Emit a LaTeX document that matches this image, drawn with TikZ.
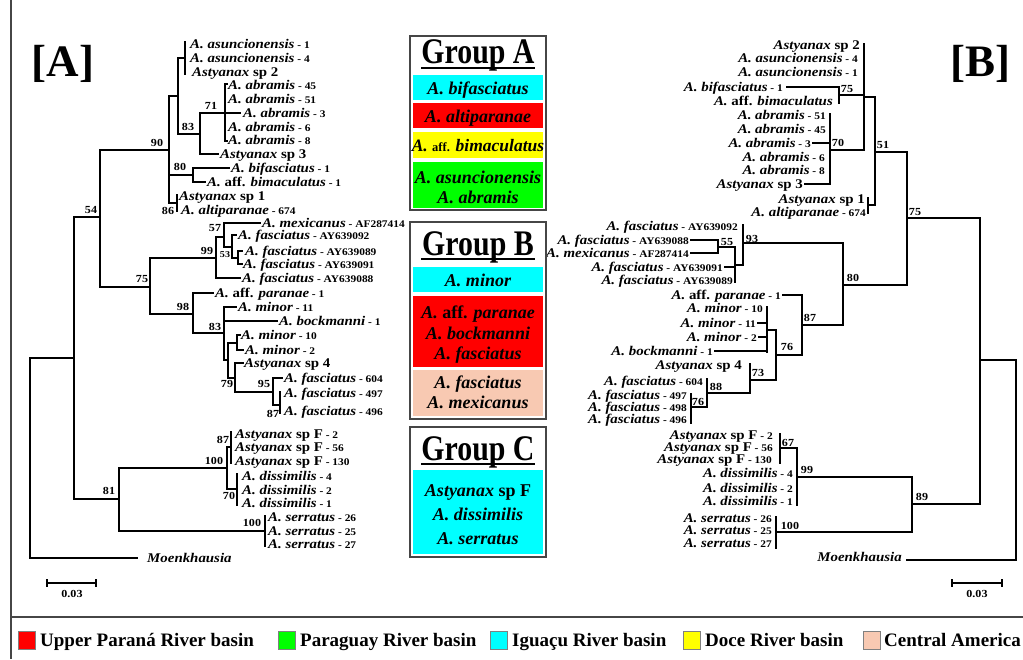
\documentclass[tikz,border=0pt]{standalone}
\usepackage{fontspec}
\setmainfont{Liberation Serif}
\newfontfamily\tipf[FakeStretch=1.12]{Liberation Serif}
\newfontfamily\grpf[FakeStretch=0.83]{Liberation Serif}
\definecolor{peach}{RGB}{248,201,178}
\definecolor{boxgray}{RGB}{70,70,70}
\definecolor{cyanb}{RGB}{0,255,255}
\definecolor{redb}{RGB}{255,0,0}
\definecolor{yelb}{RGB}{255,255,0}
\definecolor{grnb}{RGB}{0,255,0}
\newcommand\spi[1]{\textbf{\textit{#1}}}
\newcommand\spn[1]{{\fontsize{10.2}{10}\selectfont\bfseries\ -\ #1}}
\newcommand\spu[1]{\textbf{#1}}
\tikzset{
 br/.style={line width=1.7pt, line cap=rect},
 tipL/.style={anchor=base west, inner sep=0pt, yshift=-4.4pt, font=\tipf\fontsize{13.3}{13}\selectfont},
 tipR/.style={anchor=base east, inner sep=0pt, yshift=-4.4pt, font=\tipf\fontsize{13.3}{13}\selectfont},
 bs/.style={inner sep=0pt, font=\tipf\bfseries\fontsize{10.8}{11}\selectfont},
 bsm/.style={inner sep=0pt, font=\tipf\bfseries\fontsize{9}{9}\selectfont},
 bandtxt/.style={anchor=base, inner sep=0pt, yshift=-6pt, font=\bfseries\itshape\fontsize{18}{18}\selectfont},
 ttl/.style={anchor=base, inner sep=0pt, font=\grpf\bfseries\fontsize{36}{36}\selectfont},
 leg/.style={anchor=base west, inner sep=0pt, yshift=-6.3pt, font=\bfseries\fontsize{19}{20}\selectfont},
 legsq/.style={draw=gray, line width=0.6pt},
 grpbox/.style={draw=boxgray, line width=1.3pt},
 big/.style={inner sep=0pt, font=\bfseries\fontsize{45}{45}\selectfont},
 sbar/.style={line width=1.3pt},
}
\begin{document}
\begin{tikzpicture}[x=1pt,y=-1pt]
\clip (0,0) rectangle (1023,659);
\fill[white] (0,0) rectangle (1023,659);
% frame
\draw[boxgray, line width=1.5pt] (11,0)--(11,659) (11,617)--(1023,617);
% panel labels
\node[big] (labA) at (63,64) {[A]};
\node[big] (labB) at (980,64) {[B]};

% ---------------- left tree -----------------
\draw[br] (30,358)--(30,558) (30,358)--(74,358) (30,558)--(137,558)
 (74,217)--(74,499) (74,217)--(100,217) (74,499)--(119,499)
 (100,150)--(100,287) (100,150)--(169,150) (100,287)--(150,287)
 (169,96)--(169,203) (169,96)--(178,96) (169,175)--(193,175) (169,203)--(177,203)
 (178,58)--(178,134) (178,58)--(185,58) (178,134)--(200,134)
 (185,42)--(185,74)
 (200,113)--(200,154) (200,154)--(218,154) (200,113)--(225,113)
 (225,84)--(225,141) (225,84)--(227,84) (225,141)--(227,141) (225,113)--(240,113)
 (193,168)--(193,182) (193,168)--(229,168) (193,182)--(205,182)
 (177,195)--(177,211)
 (150,258)--(150,314) (150,258)--(216,258) (150,314)--(193,314)
 (216,237)--(216,278) (216,237)--(224,237) (216,278)--(240,278)
 (224,223)--(224,247) (224,223)--(260,223) (224,247)--(232,247)
 (232,235)--(232,258) (232,235)--(236,235) (232,258)--(238,258)
 (238,251)--(238,264) (238,251)--(242,251) (238,264)--(242,264)
 (193,293)--(193,333) (193,293)--(213,293) (193,333)--(224,333)
 (224,307)--(224,360) (224,307)--(236,307) (224,321)--(277,321) (224,360)--(228,360)
 (228,343)--(228,378) (228,343)--(237,343) (228,378)--(235,378)
 (237,335)--(237,350) (237,335)--(240,335) (237,350)--(243,350)
 (235,363)--(235,392) (235,363)--(243,363) (235,392)--(273,392)
 (273,378)--(273,405) (273,378)--(282,378) (273,405)--(280,405)
 (280,392)--(280,413)
 (119,468)--(119,531) (119,468)--(227,468) (119,531)--(265,531)
 (227,447)--(227,489) (227,447)--(231,447) (227,489)--(237,489)
 (231,432)--(231,463)
 (237,474)--(237,505)
 (265,516)--(265,546);

\node[tipL] (l1) at (190,44) {\spi{A. asuncionensis}\spn{1}};
\node[tipL] (l2) at (190,58) {\spi{A. asuncionensis}\spn{4}};
\node[tipL] (l3) at (192,72) {\spi{Astyanax} \spu{sp 2}};
\node[tipL] (l4) at (228,85) {\spi{A. abramis}\spn{45}};
\node[tipL] (l5) at (228,99) {\spi{A. abramis}\spn{51}};
\node[tipL] (l6) at (243,113) {\spi{A. abramis}\spn{3}};
\node[tipL] (l7) at (228,127) {\spi{A. abramis}\spn{6}};
\node[tipL] (l8) at (228,140) {\spi{A. abramis}\spn{8}};
\node[tipL] (l9) at (220,154) {\spi{Astyanax} \spu{sp 3}};
\node[tipL] (l10) at (231,168) {\spi{A. bifasciatus}\spn{1}};
\node[tipL] (l11) at (207,182) {\spi{A.} \spu{aff.} \spi{bimaculatus}\spn{1}};
\node[tipL] (l12) at (179,196) {\spi{Astyanax} \spu{sp 1}};
\node[tipL] (l13) at (181,210) {\spi{A. altiparanae}\spn{674}};
\node[tipL] (l14) at (262,223) {\spi{A. mexicanus}\spn{AF287414}};
\node[tipL] (l15) at (238,235) {\spi{A. fasciatus}\spn{AY639092}};
\node[tipL] (l16) at (245,251) {\spi{A. fasciatus}\spn{AY639089}};
\node[tipL] (l17) at (243,264) {\spi{A. fasciatus}\spn{AY639091}};
\node[tipL] (l18) at (242,278) {\spi{A. fasciatus}\spn{AY639088}};
\node[tipL] (l19) at (215,293) {\spi{A.} \spu{aff.} \spi{paranae}\spn{1}};
\node[tipL] (l20) at (238,307) {\spi{A. minor}\spn{11}};
\node[tipL] (l21) at (279,321) {\spi{A. bockmanni}\spn{1}};
\node[tipL] (l22) at (241,335) {\spi{A. minor}\spn{10}};
\node[tipL] (l23) at (245,350) {\spi{A. minor}\spn{2}};
\node[tipL] (l24) at (244,363) {\spi{Astyanax} \spu{sp 4}};
\node[tipL] (l25) at (284,378) {\spi{A. fasciatus}\spn{604}};
\node[tipL] (l26) at (284,393) {\spi{A. fasciatus}\spn{497}};
\node[tipL] (l27) at (284,411) {\spi{A. fasciatus}\spn{496}};
\node[tipL] (l28) at (235,434) {\spi{Astyanax} \spu{sp F}\spn{2}};
\node[tipL] (l29) at (235,447) {\spi{Astyanax} \spu{sp F}\spn{56}};
\node[tipL] (l30) at (235,461) {\spi{Astyanax} \spu{sp F}\spn{130}};
\node[tipL] (l31) at (242,476) {\spi{A. dissimilis}\spn{4}};
\node[tipL] (l32) at (242,490) {\spi{A. dissimilis}\spn{2}};
\node[tipL] (l33) at (242,503) {\spi{A. dissimilis}\spn{1}};
\node[tipL] (l34) at (268,517) {\spi{A. serratus}\spn{26}};
\node[tipL] (l35) at (268,531) {\spi{A. serratus}\spn{25}};
\node[tipL] (l36) at (268,544) {\spi{A. serratus}\spn{27}};
\node[tipL] (l37) at (147,558) {\spi{Moenkhausia}};

\node[bs] (b1) at (157,143) {90};
\node[bs] (b2) at (91,210) {54};
\node[bs] (b3) at (142,279) {75};
\node[bs] (b4) at (109,491) {81};
\node[bs] (b5) at (188,127) {83};
\node[bs] (b6) at (211,106) {71};
\node[bs] (b7) at (180,167) {80};
\node[bs] (b8) at (168,211) {86};
\node[bs] (b9) at (207,251) {99};
\node[bs] (b10) at (215,228) {57};
\node[bsm] (b11) at (225,255) {53};
\node[bs] (b12) at (183,307) {98};
\node[bs] (b13) at (215,327) {83};
\node[bs] (b14) at (227,384) {79};
\node[bs] (b15) at (264,384) {95};
\node[bs] (b16) at (273,414) {87};
\node[bs] (b17) at (223,440) {87};
\node[bs] (b18) at (214,461) {100};
\node[bs] (b19) at (229,496) {70};
\node[bs] (b20) at (252,523) {100};

\draw[sbar] (47,583)--(96,583) (47,579)--(47,587) (96,579)--(96,587);
\node[bs] (s1) at (72,594) {0.03};

% ---------------- right tree -----------------
\draw[br] (1016,360)--(1016,560) (980,360)--(1016,360) (907,560)--(1016,560)
 (980,218)--(980,504) (907,218)--(980,218) (912,504)--(980,504)
 (907,152)--(907,285) (875,152)--(907,152) (843,285)--(907,285)
 (875,97)--(875,205) (864,97)--(875,97) (868,205)--(875,205)
 (868,198)--(868,213)
 (864,44)--(864,150) (839,95)--(864,95) (830,150)--(864,150)
 (839,87)--(839,103) (787,87)--(839,87)
 (830,114)--(830,184) (813,143)--(830,143) (805,184)--(830,184)
 (843,243)--(843,325) (743,243)--(843,243) (802,325)--(843,325)
 (743,225)--(743,265) (735,265)--(743,265)
 (735,247)--(735,282) (718,247)--(735,247) (725,267)--(735,267)
 (718,240)--(718,253) (691,240)--(718,240) (691,253)--(718,253)
 (802,295)--(802,355) (783,295)--(802,295) (776,355)--(802,355)
 (776,330)--(776,380) (767,330)--(776,330) (750,380)--(776,380)
 (767,307)--(767,352) (758,323)--(767,323) (759,337)--(767,337) (715,351)--(767,351)
 (750,364)--(750,393) (707,393)--(750,393)
 (707,379)--(707,407) (691,407)--(707,407)
 (691,394)--(691,423)
 (912,477)--(912,532) (797,477)--(912,477) (776,532)--(912,532)
 (797,448)--(797,505) (780,448)--(797,448)
 (780,434)--(780,463)
 (776,517)--(776,548);

\node[tipR] (r1) at (860,45) {\spi{Astyanax} \spu{sp 2}};
\node[tipR] (r2) at (858,58) {\spi{A. asuncionensis}\spn{4}};
\node[tipR] (r3) at (858,72) {\spi{A. asuncionensis}\spn{1}};
\node[tipR] (r4) at (783,87) {\spi{A. bifasciatus}\spn{1}};
\node[tipR] (r5) at (833,101) {\spi{A.} \spu{aff.} \spi{bimaculatus}};
\node[tipR] (r6) at (826,115) {\spi{A. abramis}\spn{51}};
\node[tipR] (r7) at (826,129) {\spi{A. abramis}\spn{45}};
\node[tipR] (r8) at (811,143) {\spi{A. abramis}\spn{3}};
\node[tipR] (r9) at (825,157) {\spi{A. abramis}\spn{6}};
\node[tipR] (r10) at (825,170) {\spi{A. abramis}\spn{8}};
\node[tipR] (r11) at (803,184) {\spi{Astyanax} \spu{sp 3}};
\node[tipR] (r12) at (865,199) {\spi{Astyanax} \spu{sp 1}};
\node[tipR] (r13) at (866,212) {\spi{A. altiparanae}\spn{674}};
\node[tipR] (r14) at (738,226) {\spi{A. fasciatus}\spn{AY639092}};
\node[tipR] (r15) at (689,240) {\spi{A. fasciatus}\spn{AY639088}};
\node[tipR] (r16) at (689,253) {\spi{A. mexicanus}\spn{AF287414}};
\node[tipR] (r17) at (723,267) {\spi{A. fasciatus}\spn{AY639091}};
\node[tipR] (r18) at (733,280) {\spi{A. fasciatus}\spn{AY639089}};
\node[tipR] (r19) at (781,295) {\spi{A.} \spu{aff.} \spi{paranae}\spn{1}};
\node[tipR] (r20) at (763,308) {\spi{A. minor}\spn{10}};
\node[tipR] (r21) at (756,323) {\spi{A. minor}\spn{11}};
\node[tipR] (r22) at (757,337) {\spi{A. minor}\spn{2}};
\node[tipR] (r23) at (713,351) {\spi{A. bockmanni}\spn{1}};
\node[tipR] (r24) at (742,365) {\spi{Astyanax} \spu{sp 4}};
\node[tipR] (r25) at (703,381) {\spi{A. fasciatus}\spn{604}};
\node[tipR] (r26) at (687,395) {\spi{A. fasciatus}\spn{497}};
\node[tipR] (r27) at (687,407) {\spi{A. fasciatus}\spn{498}};
\node[tipR] (r28) at (687,419) {\spi{A. fasciatus}\spn{496}};
\node[tipR] (r29) at (773,435) {\spi{Astyanax} \spu{sp F}\spn{2}};
\node[tipR] (r30) at (773,447) {\spi{Astyanax} \spu{sp F}\spn{56}};
\node[tipR] (r31) at (772,459) {\spi{Astyanax} \spu{sp F}\spn{130}};
\node[tipR] (r32) at (793,473) {\spi{A. dissimilis}\spn{4}};
\node[tipR] (r33) at (793,488) {\spi{A. dissimilis}\spn{2}};
\node[tipR] (r34) at (793,501) {\spi{A. dissimilis}\spn{1}};
\node[tipR] (r35) at (772,518) {\spi{A. serratus}\spn{26}};
\node[tipR] (r36) at (772,530) {\spi{A. serratus}\spn{25}};
\node[tipR] (r37) at (772,543) {\spi{A. serratus}\spn{27}};
\node[tipR] (r38) at (902,557) {\spi{Moenkhausia}};

\node[bs] (c1) at (847,89) {75};
\node[bs] (c2) at (838,143) {70};
\node[bs] (c3) at (883,145) {51};
\node[bs] (c4) at (915,212) {75};
\node[bs] (c5) at (752,239) {93};
\node[bs] (c6) at (727,242) {55};
\node[bs] (c7) at (853,278) {80};
\node[bs] (c8) at (810,318) {87};
\node[bs] (c9) at (787,347) {76};
\node[bs] (c10) at (758,373) {73};
\node[bs] (c11) at (716,387) {88};
\node[bs] (c12) at (698,402) {76};
\node[bs] (c13) at (788,443) {67};
\node[bs] (c14) at (807,470) {99};
\node[bs] (c15) at (922,497) {89};
\node[bs] (c16) at (790,526) {100};

\draw[sbar] (952,583)--(1002,583) (952,579)--(952,587) (1002,579)--(1002,587);
\node[bs] (s2) at (977,594) {0.03};

% ---------------- group boxes -----------------
% Group A
\fill[cyanb] (413,75) rectangle (543,100);
\fill[redb] (413,103) rectangle (543,128);
\fill[yelb] (413,132) rectangle (543,158);
\fill[grnb] (413,162) rectangle (543,208);
\draw[grpbox] (410,36) rectangle (546,210);
\node[ttl] (gA) at (478,63) {Group A};
\draw[line width=1.5pt] (421,68)--(535,68);
\node[bandtxt] (a1) at (478,88) {A. bifasciatus};
\node[bandtxt] (a2) at (478,116) {A. altiparanae};
\node[bandtxt, font=\bfseries\itshape\fontsize{17.5}{18}\selectfont] (a3) at (478,145) {A. {\upshape\fontsize{12.5}{13}\selectfont aff.} bimaculatus};
\node[bandtxt] (a4) at (478,177) {A. asuncionensis};
\node[bandtxt] (a5) at (478,197) {A. abramis};
% Group B
\fill[cyanb] (413,267) rectangle (543,292);
\fill[redb] (413,296) rectangle (543,367);
\fill[peach] (413,370) rectangle (543,416);
\draw[grpbox] (410,222) rectangle (546,419);
\node[ttl] (gB) at (478,255) {Group B};
\draw[line width=1.5pt] (421,259)--(535,259);
\node[bandtxt] (bb1) at (478,280) {A. minor};
\node[bandtxt] (bb2) at (478,312) {A. {\upshape aff.} paranae};
\node[bandtxt] (bb3) at (478,333) {A. bockmanni};
\node[bandtxt] (bb4) at (478,353) {A. fasciatus};
\node[bandtxt] (bb5) at (478,382) {A. fasciatus};
\node[bandtxt] (bb6) at (478,402) {A. mexicanus};
% Group C
\fill[cyanb] (413,470) rectangle (543,554);
\draw[grpbox] (410,427) rectangle (546,557);
\node[ttl] (gC) at (478,460) {Group C};
\draw[line width=1.5pt] (421,464)--(535,464);
\node[bandtxt] (cc1) at (478,490) {Astyanax {\upshape sp F}};
\node[bandtxt] (cc2) at (478,514) {A. dissimilis};
\node[bandtxt] (cc3) at (478,538) {A. serratus};

% ---------------- legend -----------------
\filldraw[legsq, fill=redb] (18,631) rectangle (35,649);
\node[leg] (g1) at (40,640) {Upper Paraná River basin};
\filldraw[legsq, fill=grnb] (278,631) rectangle (295,649);
\node[leg] (g2) at (300,640) {Paraguay River basin};
\filldraw[legsq, fill=cyanb] (490,631) rectangle (507,649);
\node[leg] (g3) at (512,640) {Iguaçu River basin};
\filldraw[legsq, fill=yelb] (683,631) rectangle (700,649);
\node[leg] (g4) at (705,640) {Doce River basin};
\filldraw[legsq, fill=peach] (863,631) rectangle (880,649);
\node[leg] (g5) at (884,640) {Central America};
\end{tikzpicture}
\end{document}
